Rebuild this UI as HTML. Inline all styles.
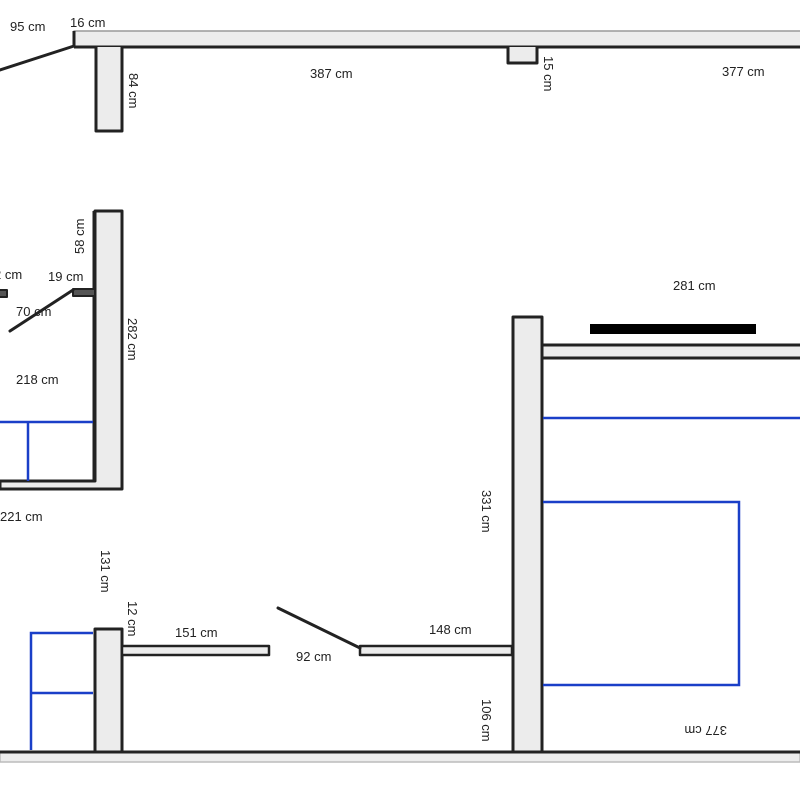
<!DOCTYPE html>
<html><head><meta charset="utf-8"><style>
html,body{margin:0;padding:0;background:#fff;}
svg{display:block;}
text{font-family:"Liberation Sans",sans-serif;font-size:13px;fill:#222;}
</style></head><body>
<svg width="800" height="800" viewBox="0 0 800 800" xmlns="http://www.w3.org/2000/svg">
<rect width="800" height="800" fill="#fff"/>
<g stroke="#222" stroke-width="3" fill="#ececec" stroke-linejoin="round">
<!-- top wall -->
<rect x="74" y="31" width="730" height="16" stroke="#999" stroke-width="1.5"/>
<line x1="74" y1="47" x2="800" y2="47"/>
<line x1="74" y1="31" x2="74" y2="47"/>
<!-- stub 84 -->
<path d="M96 47 L96 131 L122 131 L122 47"/>
<!-- notch -->
<path d="M508 47 L508 63 L537 63 L537 47"/>
<!-- left middle wall -->
<path d="M95 211 L122 211 L122 489 L0 489 L0 481 L95 481 Z" />
<line x1="94" y1="211" x2="94" y2="481"/>
<!-- 19cm stub -->
<rect x="73" y="289" width="22" height="7" fill="#555" stroke-width="2"/>
<rect x="-4" y="290" width="11" height="7" fill="#555" stroke-width="2"/>
<!-- bottom-left pillar -->
<rect x="95" y="629" width="27" height="123"/>
<!-- 151 wall -->
<rect x="122" y="646" width="147" height="9" stroke-width="2.5"/>
<!-- 148 wall -->
<rect x="360" y="646" width="152" height="9" stroke-width="2.5"/>
<!-- central wall -->
<rect x="513" y="317" width="29" height="435"/>
<!-- right top wall -->
<rect x="542" y="345" width="260" height="13"/>
<!-- bottom wall -->
<path d="M0 752 L800 752 L800 762 L0 762 Z" stroke="#bbb" stroke-width="1.5"/>
<line x1="0" y1="752" x2="800" y2="752"/>
</g>
<g stroke="#222" stroke-width="3" stroke-linecap="round">
<line x1="0" y1="70" x2="74" y2="46"/>
<line x1="10" y1="331" x2="73" y2="290"/>
<line x1="278" y1="608" x2="360" y2="648"/>
</g>
<rect x="590" y="324" width="166" height="10" fill="#000"/>
<g stroke="#1a3fc8" stroke-width="2.5" fill="none">
<line x1="0" y1="422" x2="93" y2="422"/>
<line x1="28" y1="422" x2="28" y2="481"/>
<path d="M93 633 L31 633 L31 750"/>
<line x1="31" y1="693" x2="93" y2="693"/>
<line x1="543" y1="418" x2="800" y2="418"/>
<path d="M543 502 L739 502 L739 685 L543 685"/>
</g>
<text x="10" y="31">95 cm</text>
<text x="70" y="27">16 cm</text>
<text x="310" y="78">387 cm</text>
<text x="722" y="76">377 cm</text>
<text x="673" y="290">281 cm</text>
<text x="-6" y="279">2 cm</text>
<text x="48" y="281">19 cm</text>
<text x="16" y="316">70 cm</text>
<text x="16" y="384">218 cm</text>
<text x="0" y="521">221 cm</text>
<text x="175" y="637">151 cm</text>
<text x="296" y="661">92 cm</text>
<text x="429" y="634">148 cm</text>
<text transform="translate(129,73) rotate(90)">84 cm</text>
<text transform="translate(544,56) rotate(90)">15 cm</text>
<text transform="translate(84,254) rotate(-90)">58 cm</text>
<text transform="translate(128,318) rotate(90)">282 cm</text>
<text transform="translate(482,490) rotate(90)">331 cm</text>
<text transform="translate(101,550) rotate(90)">131 cm</text>
<text transform="translate(128,601) rotate(90)">12 cm</text>
<text transform="translate(482,699) rotate(90)">106 cm</text>
<text transform="translate(727,726) rotate(180)">377 cm</text>
</svg>
</body></html>
